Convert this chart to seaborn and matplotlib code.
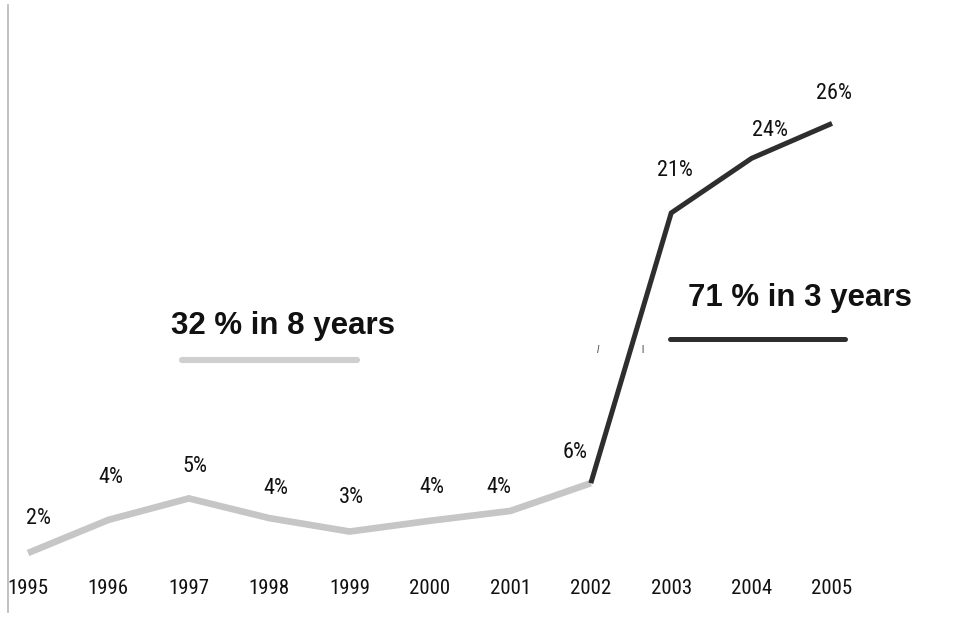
import matplotlib
matplotlib.use("Agg")
import matplotlib.pyplot as plt
import matplotlib.transforms as mtransforms
import seaborn as sns
import pandas as pd

# ---- data ----
years = [1995, 1996, 1997, 1998, 1999, 2000, 2001, 2002, 2003, 2004, 2005]
share = [2.0, 3.85, 5.05, 3.95, 3.2, 3.8, 4.35, 5.9, 21.0, 24.05, 26.0]
share_labels = ["2%", "4%", "5%", "4%", "3%", "4%", "4%", "6%", "21%", "24%", "26%"]
split_year = 2002
growth_texts = ["32 % in 8 years", "71 % in 3 years"]

# label offsets (px) relative to each point
label_off = [(10, 35), (2, 42), (6, 32), (7, 30), (2, 34), (2, 33),
             (-12, 23), (-16, 31), (4, 42), (18, 28), (2, 30)]

df = pd.DataFrame({"year": years, "share": share})
early = df[df["year"] <= split_year]
late = df[df["year"] >= split_year]

sns.set_style("white")
narrow = ["Roboto Condensed", "DejaVu Sans"]
plt.rcParams["font.family"] = ["Liberation Sans", "DejaVu Sans"]

W, H = 956, 621
fig = plt.figure(figsize=(W / 100, H / 100), dpi=100)
ax = fig.add_axes([8 / W, (H - 612) / H, (W - 8) / W, (612 - 5) / H])

light = "#c6c6c6"
dark = "#2e2e2e"
sns.lineplot(data=early, x="year", y="share", ax=ax, color=light,
             linewidth=4.8, solid_capstyle="butt", solid_joinstyle="miter")
sns.lineplot(data=late, x="year", y="share", ax=ax, color=dark,
             linewidth=3.6, solid_capstyle="butt", solid_joinstyle="miter")

ax.set_xlim(1994.751, 2006.542)
ax.set_ylim(-1.296, 32.615)
ax.set_xlabel("")
ax.set_ylabel("")
ax.set_xticks([])
ax.set_yticks([])
for s in ["top", "right", "bottom"]:
    ax.spines[s].set_visible(False)
ax.spines["left"].set_color("#b8b8b8")
ax.spines["left"].set_linewidth(1.2)

# point labels
for x, y, lab, (dx, dy) in zip(years, share, share_labels, label_off):
    ax.annotate(lab, (x, y), xytext=(dx * 0.72, dy * 0.72), textcoords="offset points",
                ha="center", va="center", fontsize=16, color="#111111",
                family=narrow)

# year labels
tr = mtransforms.blended_transform_factory(ax.transData, ax.transAxes)
for x in years:
    ax.text(x, (612 - 589) / 607, str(x), transform=tr, ha="center", va="center",
            fontsize=15, color="#111111", family=narrow)

# growth annotations
def fx(px):
    return px / W

def fy(py):
    return 1 - py / H

fig.text(fx(283), fy(326), growth_texts[0], ha="center", va="center",
         fontsize=22.5, fontweight="bold", color="#111111")
fig.add_artist(plt.Line2D([fx(182), fx(357)], [fy(360), fy(360)], color="#cfcfcf",
                          linewidth=4.4, solid_capstyle="round"))
fig.text(fx(800), fy(298), growth_texts[1], ha="center", va="center",
         fontsize=22.5, fontweight="bold", color="#111111")
fig.add_artist(plt.Line2D([fx(670), fx(845)], [fy(339), fy(339)], color=dark,
                          linewidth=3.6, solid_capstyle="round"))

# tiny stray marks
fig.text(fx(598), fy(350), "l", ha="center", va="center", fontsize=7,
         color="#444444", style="italic")
fig.text(fx(642), fy(350), "l", ha="center", va="center", fontsize=7,
         color="#444444")

fig.savefig("out.png", dpi=100, facecolor="white")
